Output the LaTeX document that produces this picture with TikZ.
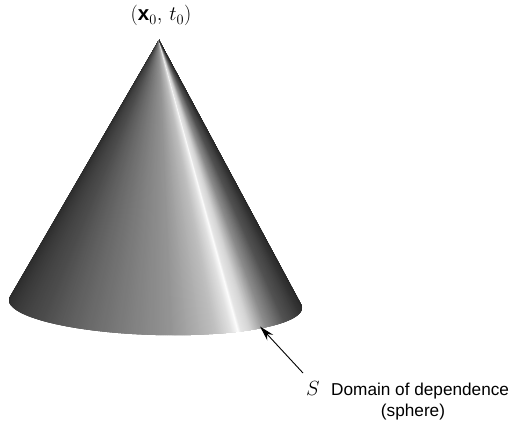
\documentclass[tikz,border=0pt]{standalone}
\usepackage{amsmath}
\usepackage{fix-cm}
\usepackage{fontspec}
\setmainfont{Liberation Sans}
\usetikzlibrary{arrows.meta}

\begin{document}
\begin{tikzpicture}[x=1pt, y=-1pt,
  declare function={
    rimx(\t) = 155.5 + 146.5*cos(\t);
    rimy(\t) = 304 + 31*sin(\t) + 3.8*cos(\t);
  },
  pointer/.style={-{Stealth[length=15pt, width=8pt]}, line width=0.9pt},
  maplabel/.style={font=\fontsize{17.2}{20}\selectfont, inner sep=0pt},
  mathlabel/.style={font=\fontsize{20.5}{24}\selectfont, inner sep=0pt}]

  \useasboundingbox (0, 0) rectangle (513, 425);

  \coordinate (apex) at (159, 40);
  \coordinate (tail) at (303, 373);
  \coordinate (tip) at (260, 326.5);

  % cone: fan of wedges, each one runs under the next so no seams show
  \foreach \ta/\ga/\tb/\gb in {187/16/170/20, 170/20/140/30, 140/30/112/44,
    112/44/84/58, 84/58/66/75, 66/75/59/88, 59/88/56.5/96, 56.5/96/55.5/100,
    55.5/100/54/90, 54/90/50/84, 50/84/41/55, 41/55/28/32, 28/32/10/20, 10/20/-7/15} {
    \foreach \k in {0,...,39} {
      \pgfmathsetmacro{\tone}{\ta + (\tb - \ta)*\k/40}
      \pgfmathsetmacro{\ttwo}{max(\ta + (\tb - \ta)*(\k + 1)/40 - 1.5, -7)}
      \pgfmathsetmacro{\graylev}{\ga + (\gb - \ga)*(\k + 0.5)/40}
      \fill[white!\graylev!black]
        (apex) -- ({rimx(\tone)}, {rimy(\tone)}) -- ({rimx(\ttwo)}, {rimy(\ttwo)}) -- cycle;
    }
  }

  % labels
  \node[mathlabel, anchor=base] (top) at (161, 21) {$(\mathbf{x}_0,\, t_0)$};
  \node[mathlabel, anchor=base west] (sym) at (306, 395) {$S$};
  \node[maplabel, anchor=base west] (dom) at (331, 395) {Domain of dependence};
  \node[maplabel, anchor=base] (sph) at (413, 416.5) {(sphere)};

  \draw[pointer] (tail) -- (tip);
\end{tikzpicture}
\end{document}
